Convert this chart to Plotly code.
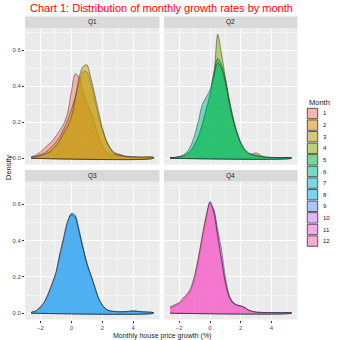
import plotly.graph_objects as go

# ---- data: kernel density of monthly house price growth, by calendar month ----
growth_pct = [-2.6, -2.25, -2.0, -1.75, -1.5, -1.25, -1.0, -0.75, -0.5, -0.25,
              0.0, 0.25, 0.5, 0.75, 1.0, 1.25, 1.5, 1.75, 2.0, 2.25,
              2.5, 2.75, 3.0, 3.5, 4.0, 4.5, 5.3]

months = ["1", "2", "3", "4", "5", "6", "7", "8", "9", "10", "11", "12"]
month_quarter = ["Q1", "Q1", "Q1", "Q2", "Q2", "Q2", "Q3", "Q3", "Q3", "Q4", "Q4", "Q4"]
quarters = ["Q1", "Q2", "Q3", "Q4"]

density_m1 = [0.008, 0.02, 0.035, 0.055, 0.075, 0.095, 0.123, 0.155, 0.19, 0.25,
              0.37, 0.47, 0.45, 0.37, 0.31, 0.26, 0.19, 0.12, 0.07, 0.035,
              0.02, 0.018, 0.022, 0.01, 0.006, 0.005, 0.004]
density_m2 = [0.005, 0.012, 0.02, 0.03, 0.045, 0.065, 0.09, 0.12, 0.16, 0.21,
              0.27, 0.34, 0.42, 0.48, 0.48, 0.42, 0.33, 0.24, 0.16, 0.1,
              0.06, 0.035, 0.025, 0.012, 0.008, 0.006, 0.005]
density_m3 = [0.005, 0.01, 0.015, 0.022, 0.03, 0.045, 0.07, 0.1, 0.14, 0.175,
              0.23, 0.33, 0.45, 0.51, 0.52, 0.45, 0.36, 0.26, 0.17, 0.1,
              0.055, 0.028, 0.018, 0.01, 0.008, 0.007, 0.006]
density_m4 = [0.003, 0.005, 0.008, 0.013, 0.022, 0.04, 0.075, 0.12, 0.19, 0.27,
              0.34, 0.45, 0.69, 0.58, 0.45, 0.32, 0.22, 0.14, 0.08, 0.045,
              0.025, 0.025, 0.03, 0.008, 0.004, 0.003, 0.002]
density_m5 = [0.003, 0.005, 0.008, 0.014, 0.025, 0.045, 0.08, 0.125, 0.19, 0.27,
              0.36, 0.48, 0.555, 0.52, 0.44, 0.33, 0.23, 0.15, 0.09, 0.05,
              0.03, 0.02, 0.015, 0.008, 0.005, 0.004, 0.003]
density_m6 = [0.003, 0.006, 0.01, 0.018, 0.035, 0.07, 0.13, 0.21, 0.3, 0.34,
              0.38, 0.46, 0.53, 0.5, 0.42, 0.31, 0.21, 0.14, 0.085, 0.05,
              0.03, 0.02, 0.015, 0.008, 0.005, 0.004, 0.003]
density_m7 = [0.004, 0.014, 0.035, 0.06, 0.105, 0.16, 0.22, 0.32, 0.41, 0.5,
              0.545, 0.53, 0.45, 0.36, 0.275, 0.215, 0.15, 0.085, 0.046, 0.022,
              0.013, 0.01, 0.008, 0.008, 0.012, 0.008, 0.003]
density_m8 = [0.004, 0.013, 0.032, 0.058, 0.1, 0.155, 0.215, 0.31, 0.405, 0.495,
              0.55, 0.54, 0.46, 0.365, 0.28, 0.21, 0.145, 0.082, 0.045, 0.022,
              0.012, 0.01, 0.008, 0.009, 0.013, 0.008, 0.003]
density_m9 = [0.005, 0.015, 0.036, 0.062, 0.108, 0.162, 0.225, 0.325, 0.415, 0.505,
              0.54, 0.525, 0.445, 0.355, 0.27, 0.21, 0.148, 0.083, 0.044, 0.021,
              0.012, 0.01, 0.008, 0.008, 0.011, 0.008, 0.003]
density_m10 = [0.025, 0.04, 0.05, 0.068, 0.09, 0.12, 0.18, 0.28, 0.4, 0.51,
               0.6, 0.57, 0.46, 0.35, 0.2, 0.1, 0.06, 0.046, 0.04, 0.032,
               0.018, 0.01, 0.006, 0.004, 0.003, 0.003, 0.002]
density_m11 = [0.03, 0.045, 0.055, 0.075, 0.1, 0.13, 0.2, 0.3, 0.42, 0.53,
               0.615, 0.56, 0.43, 0.3, 0.17, 0.09, 0.058, 0.045, 0.04, 0.032,
               0.018, 0.01, 0.006, 0.004, 0.003, 0.003, 0.002]
density_m12 = [0.035, 0.048, 0.06, 0.085, 0.105, 0.14, 0.21, 0.31, 0.43, 0.535,
               0.61, 0.55, 0.42, 0.29, 0.165, 0.088, 0.056, 0.044, 0.039, 0.03,
               0.017, 0.01, 0.006, 0.004, 0.003, 0.003, 0.002]

densities = [density_m1, density_m2, density_m3, density_m4, density_m5, density_m6,
             density_m7, density_m8, density_m9, density_m10, density_m11, density_m12]

x_ticks = [-2, 0, 2, 4]
y_ticks = [0.0, 0.2, 0.4, 0.6]
y_tick_labels = ["0.0", "0.2", "0.4", "0.6"]

# ---- styling ----
palette = ["#F8766D", "#DE8C00", "#B79F00", "#7CAE00", "#00BA38", "#00C08B",
           "#00BFC4", "#00B4F0", "#619CFF", "#C77CFF", "#F564E3", "#FF64B0"]
FONT = "Liberation Sans, Arial, sans-serif"
W = H = 340


def rgba(hex_color, a):
    h = hex_color.lstrip("#")
    r, g, b = int(h[0:2], 16), int(h[2:4], 16), int(h[4:6], 16)
    return f"rgba({r},{g},{b},{a})"


def fx(px):
    return px / W


def fy(py):
    return 1 - py / H


# panel boxes in pixels: (left, right, top, bottom)
panel_px = {
    "Q1": (25, 159.5, 28, 164.5),
    "Q2": (164, 297.5, 28, 164.5),
    "Q3": (25, 159.5, 181.5, 319.5),
    "Q4": (164, 297.5, 181.5, 319.5),
}
strip_h = 11.5

x_lo, x_hi = min(growth_pct), max(growth_pct)
x_pad = 0.05 * (x_hi - x_lo)
y_max = max(max(d) for d in densities)
y_range = [-0.05 * y_max, 1.05 * y_max]

fig = go.Figure()
layout = dict(
    width=W, height=H,
    margin=dict(l=0, r=0, t=0, b=0),
    paper_bgcolor="white",
    plot_bgcolor="#EBEBEB",
    showlegend=False,
    font=dict(family=FONT, color="#4D4D4D"),
)
shapes = []
annotations = []

for i, q in enumerate(quarters):
    k = "" if i == 0 else str(i + 1)
    left, right, top, bottom = panel_px[q]
    bottom_row = q in ("Q3", "Q4")
    left_col = q in ("Q1", "Q3")
    layout["xaxis" + k] = dict(
        domain=[fx(left), fx(right)], anchor="y" + k,
        range=[x_lo - x_pad, x_hi + x_pad],
        tickmode="array", tickvals=x_ticks,
        showticklabels=bottom_row, ticks="outside" if bottom_row else "",
        ticklen=2, tickwidth=0.6, tickcolor="#333333",
        tickfont=dict(size=6, color="#4D4D4D", family=FONT),
        showgrid=True, gridcolor="white", gridwidth=0.8,
        minor=dict(tickmode="array", tickvals=[-3, -1, 1, 3, 5],
                   showgrid=True, gridcolor="#F5F5F5", gridwidth=0.4),
        zeroline=False, showline=False, fixedrange=True,
    )
    layout["yaxis" + k] = dict(
        domain=[fy(bottom), fy(top)], anchor="x" + k,
        range=y_range,
        tickmode="array", tickvals=y_ticks, ticktext=y_tick_labels,
        showticklabels=left_col, ticks="outside" if left_col else "",
        ticklen=2, tickwidth=0.6, tickcolor="#333333",
        tickfont=dict(size=6, color="#4D4D4D", family=FONT),
        showgrid=True, gridcolor="white", gridwidth=0.8,
        minor=dict(tickmode="array", tickvals=[0.1, 0.3, 0.5, 0.7],
                   showgrid=True, gridcolor="#F5F5F5", gridwidth=0.4),
        zeroline=False, showline=False, fixedrange=True,
    )
    # facet strip
    shapes.append(dict(type="rect", xref="paper", yref="paper",
                       x0=fx(left), x1=fx(right), y0=fy(top), y1=fy(top - strip_h),
                       fillcolor="#D9D9D9", line=dict(width=0), layer="below"))
    annotations.append(dict(text=q, xref="paper", yref="paper",
                            x=fx((left + right) / 2), y=fy(top - strip_h / 2),
                            showarrow=False, xanchor="center", yanchor="middle",
                            font=dict(size=6.5, color="#1A1A1A", family=FONT)))

# density areas, one per month, drawn in month order
for m, q, dens, col in zip(months, month_quarter, densities, palette):
    i = quarters.index(q)
    k = "" if i == 0 else str(i + 1)
    xs = growth_pct + [growth_pct[-1], growth_pct[0]]
    ys = dens + [0.0, 0.0]
    fig.add_trace(go.Scatter(
        x=xs, y=ys, name=m, mode="lines",
        line=dict(color="rgba(20,20,20,0.85)", width=0.5, shape="spline", smoothing=0.8),
        fill="toself", fillcolor=rgba(col, 0.5),
        xaxis="x" + k, yaxis="y" + k, hoverinfo="skip",
    ))

# legend drawn in paper space
leg_left, leg_top, key = 306.7, 107.7, 11.6
annotations.append(dict(text="Month", xref="paper", yref="paper",
                        x=fx(leg_left), y=fy(leg_top - 5), showarrow=False,
                        xanchor="left", yanchor="middle",
                        font=dict(size=7.5, color="#1A1A1A", family=FONT)))
for j, (m, col) in enumerate(zip(months, palette)):
    t = leg_top + j * key
    shapes.append(dict(type="rect", xref="paper", yref="paper",
                       x0=fx(leg_left), x1=fx(leg_left + key), y0=fy(t + key), y1=fy(t),
                       fillcolor="#F2F2F2", line=dict(width=0)))
    shapes.append(dict(type="rect", xref="paper", yref="paper",
                       x0=fx(leg_left + 0.6), x1=fx(leg_left + key - 0.6),
                       y0=fy(t + key - 0.6), y1=fy(t + 0.6),
                       fillcolor=rgba(col, 0.5), line=dict(width=0.7, color="#222222")))
    annotations.append(dict(text=m, xref="paper", yref="paper",
                            x=fx(leg_left + key + 2.5), y=fy(t + key / 2), showarrow=False,
                            xanchor="left", yanchor="middle",
                            font=dict(size=6, color="#1A1A1A", family=FONT)))

# titles
annotations.append(dict(text="Chart 1: Distribution of monthly growth rates by month",
                        xref="paper", yref="paper", x=fx(161.5), y=fy(8),
                        showarrow=False, xanchor="center", yanchor="middle",
                        font=dict(size=11, color="#FF0000", family=FONT)))
annotations.append(dict(text="Monthly house price growth (%)",
                        xref="paper", yref="paper", x=fx(161.5), y=fy(335.5),
                        showarrow=False, xanchor="center", yanchor="middle",
                        font=dict(size=7, color="#1A1A1A", family=FONT)))
annotations.append(dict(text="Density", xref="paper", yref="paper",
                        x=fx(8), y=fy(168), textangle=-90,
                        showarrow=False, xanchor="center", yanchor="middle",
                        font=dict(size=7.5, color="#1A1A1A", family=FONT)))

layout["shapes"] = shapes
layout["annotations"] = annotations
fig.update_layout(**layout)

fig.write_html("out.html")
